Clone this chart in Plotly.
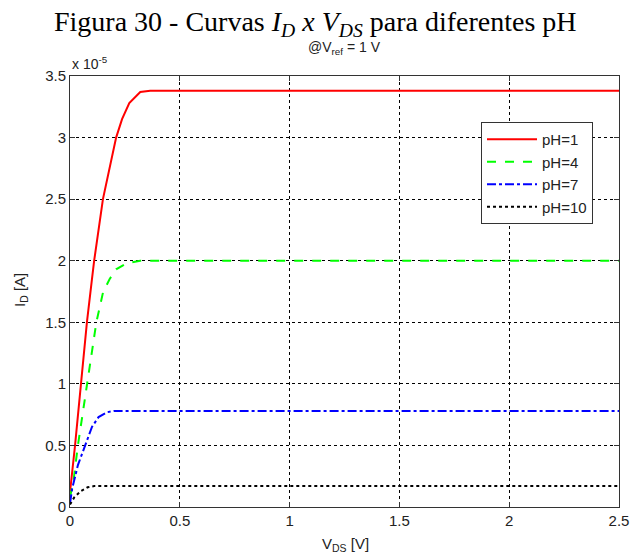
import plotly.graph_objects as go

# Data (I_D in units of 1e-5 A, V_DS in V)
v_ph1 = [0, 0.01, 0.023, 0.05, 0.077, 0.10, 0.11, 0.15, 0.21, 0.237, 0.27, 0.32, 0.365, 2.5]
i_ph1 = [0.12, 0.27, 0.5, 1.0, 1.5, 1.85, 2.0, 2.5, 3.0, 3.15, 3.28, 3.37, 3.38, 3.38]

v_ph4 = [0, 0.015, 0.036, 0.077, 0.09, 0.12, 0.15, 0.18, 0.21, 0.26, 0.32, 2.5]
i_ph4 = [0.08, 0.2, 0.5, 1.0, 1.17, 1.5, 1.74, 1.85, 1.93, 1.98, 2.0, 2.0]

v_ph7 = [0, 0.01, 0.036, 0.068, 0.10, 0.13, 0.17, 0.20, 0.25, 2.5]
i_ph7 = [0.03, 0.15, 0.34, 0.5, 0.65, 0.73, 0.77, 0.78, 0.78, 0.78]

v_ph10 = [0, 0.02, 0.05, 0.08, 0.11, 0.15, 2.5]
i_ph10 = [0.02, 0.08, 0.13, 0.16, 0.17, 0.17, 0.17]

names = ["pH=1", "pH=4", "pH=7", "pH=10"]
colors = ["#FF0000", "#00FF00", "#0000FF", "#000000"]
dashes = ["solid", "dash", "dashdot", "dot"]

xticks = [0, 0.5, 1, 1.5, 2, 2.5]
xticklabels = ["0", "0.5", "1", "1.5", "2", "2.5"]
yticks = [0, 0.5, 1, 1.5, 2, 2.5, 3, 3.5]
yticklabels = ["0", "0.5", "1", "1.5", "2", "2.5", "3", "3.5"]

SANS = "Liberation Sans, Arial"
TXT = "#222222"

fig = go.Figure()
for v, i, n, c, d in zip([v_ph1, v_ph4, v_ph7, v_ph10], [i_ph1, i_ph4, i_ph7, i_ph10], names, colors, dashes):
    fig.add_trace(go.Scatter(x=v, y=i, mode="lines", name=n,
                             line=dict(color=c, width=2, dash=d)))

axis_common = dict(
    showline=True, linecolor="#333333", linewidth=1, mirror="ticks",
    ticks="inside", ticklen=5, tickcolor="#333333",
    showgrid=True, gridcolor="#000000", gridwidth=1, griddash="3px,3px",
    zeroline=False, automargin=False,
    tickfont=dict(family=SANS, size=15, color=TXT),
)

fig.update_xaxes(range=[0, 2.5], tickvals=xticks, ticktext=xticklabels, **axis_common)
fig.update_yaxes(range=[0, 3.5], tickvals=yticks, ticktext=yticklabels, **axis_common)

fig.update_layout(
    width=630, height=556,
    margin=dict(l=70, r=11, t=76, b=49),
    paper_bgcolor="white", plot_bgcolor="white",
    showlegend=True,
    legend=dict(x=(481 - 70) / 549, y=(507 - 122) / 431, xanchor="left", yanchor="top",
                bgcolor="white", bordercolor="#333333", borderwidth=1,
                itemwidth=50, tracegroupgap=0,
                font=dict(family=SANS, size=15, color=TXT)),
    annotations=[
        dict(text="Figura 30 - Curvas <i>I<sub>D</sub> x V<sub>DS</sub></i> para diferentes pH",
             xref="paper", yref="paper", x=(315 - 70) / 549, y=1 + (76 - 4) / 431,
             xanchor="center", yanchor="top", showarrow=False,
             font=dict(family="Liberation Serif, Times New Roman", size=28, color="#000000")),
        dict(text="@V<sub>ref</sub> = 1 V",
             xref="paper", yref="paper", x=0.5, y=1 + (76 - 37) / 431,
             xanchor="center", yanchor="top", showarrow=False,
             font=dict(family=SANS, size=14, color=TXT)),
        dict(text="x 10<sup>-5</sup>",
             xref="paper", yref="paper", x=0.0, y=1 + (76 - 74) / 431,
             xanchor="left", yanchor="bottom", showarrow=False,
             font=dict(family=SANS, size=14, color=TXT)),
        dict(text="I<sub>D</sub> [A]",
             xref="paper", yref="paper", x=(20 - 70) / 549, y=(507 - 290) / 431,
             xanchor="center", yanchor="middle", showarrow=False, textangle=-90,
             font=dict(family=SANS, size=15, color=TXT)),
        dict(text="V<sub>DS</sub> [V]",
             xref="paper", yref="paper", x=(345 - 70) / 549, y=-(533 - 507) / 431,
             xanchor="center", yanchor="top", showarrow=False,
             font=dict(family=SANS, size=15, color=TXT)),
    ],
)

fig.write_html("out.html")
